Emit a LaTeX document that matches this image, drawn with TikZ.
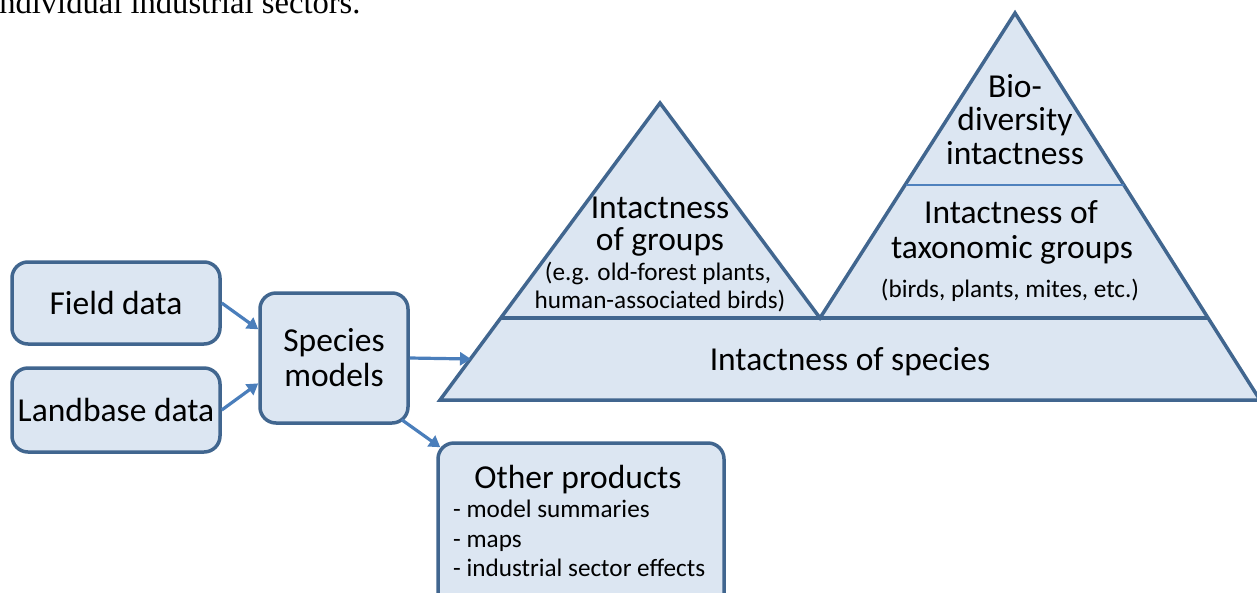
\documentclass[tikz,border=0pt]{standalone}
\usepackage{fontspec}
\setmainfont{Carlito}
\newfontfamily\seriffont{Liberation Serif}
\usetikzlibrary{calc,arrows.meta}
\definecolor{fillb}{HTML}{DCE6F2}
\definecolor{edgeb}{HTML}{41668F}
\definecolor{arrb}{HTML}{4A7EBB}
\definecolor{sepb}{HTML}{4F81BD}
\begin{document}
\begin{tikzpicture}[x=1pt,y=-1pt,
  box/.style={draw=edgeb, fill=fillb, line width=3.5pt, rounded corners=16pt, inner sep=0pt, align=center, font=\bigtxt},
  conn/.style={draw=arrb, line width=3.2pt, -{Triangle[length=11pt,width=13pt]}},
  pyr/.style={draw=edgeb, fill=fillb, line width=3.5pt},
  bigl/.style={anchor=base, inner sep=0pt, font=\bigtxt},
  smalll/.style={anchor=base, inner sep=0pt, font=\smalltxt},
  listl/.style={anchor=base west, inner sep=0pt, font=\smalltxt}]
\def\bigtxt{\fontsize{33.5}{35}\selectfont}
\def\smalltxt{\fontsize{25.2}{29}\selectfont}
\useasboundingbox (0,0) rectangle (1257,592);
\clip (0,0) rectangle (1257,592);
\fill[white] (0,0) rectangle (1257,592);

% cropped line of text at top
\node[anchor=base west, inner sep=0pt, font=\seriffont\fontsize{32.6}{36}\selectfont] (toptext) at (-10,13) {individual industrial sectors.};

% pyramid
\draw[pyr] (440,400) -- (660,103) -- (820,318) -- (1015,13) -- (1260,400) -- cycle;
\draw[draw=edgeb, line width=3.6pt] (500,318) -- (1208,318);
\draw[draw=sepb, line width=2.8pt] (906,185) -- (1124,185);
\coordinate (pyrin) at (471,359);

% pyramid texts
\node[bigl] (bio1) at (1015,97) {Bio-};
\node[bigl] (bio2) at (1015,130) {diversity};
\node[bigl] (bio3) at (1015,164) {intactness};
\node[bigl] (tax1) at (1011,223) {Intactness of};
\node[bigl] (tax2) at (1012,258) {taxonomic groups};
\node[smalll] (tax3) at (1010,297) {(birds, plants, mites, etc.)};
\node[bigl] (grp1) at (660,218) {Intactness};
\node[bigl] (grp2) at (660,250) {of groups};
\node[smalll] (grp3) at (658,280) {(e.g. old-forest plants,};
\node[smalll] (grp4) at (660,308) {human-associated birds)};
\node[bigl] (spp) at (850,370) {Intactness of species};

% boxes
\node[box, minimum width=208pt, minimum height=82pt] (field) at (116,303) {Field data};
\node[box, minimum width=208pt, minimum height=84pt] (landbase) at (116,410) {Landbase data};
\node[box, minimum width=148pt, minimum height=130pt] (species) at (334,358) {Species\\models};
\node[box, minimum width=286pt, minimum height=170pt] (other) at (581,528) {};
\node[bigl] (othert) at (578,488) {Other products};
\node[listl] (o1) at (453,517) {- model summaries};
\node[listl] (o2) at (453,547) {- maps};
\node[listl] (o3) at (453,576) {- industrial sector effects};

% connectors
\draw[conn] (field.east) -- ($(species.north west)!0.285!(species.south west)$);
\draw[conn] (landbase.east) -- ($(species.north west)!0.69!(species.south west)$);
\draw[conn] (species.east) -- (pyrin);
\draw[conn] ($(species.south east)+(-8,-5)$) -- ($(other.north west)+(4,6)$);
\end{tikzpicture}
\end{document}
